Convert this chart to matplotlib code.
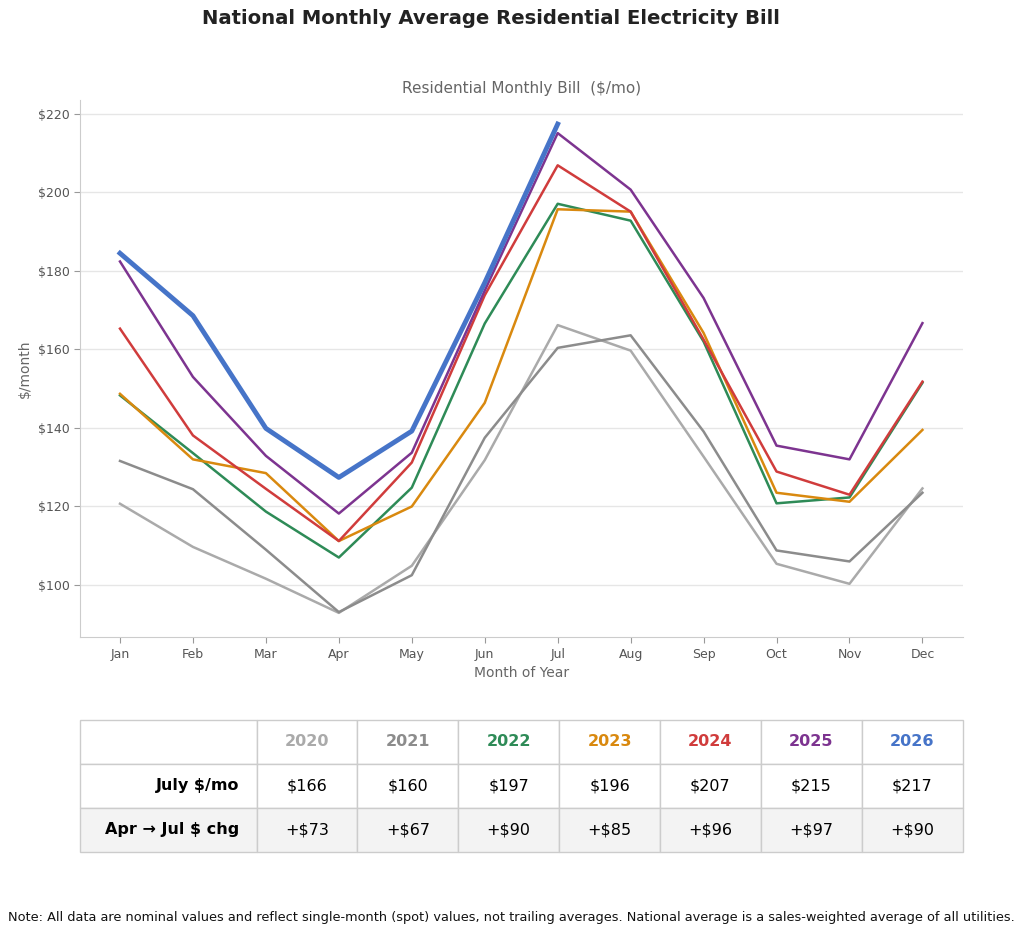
import numpy as np
import matplotlib
matplotlib.use("Agg")
from matplotlib import pyplot as plt

months = ['Jan', 'Feb', 'Mar', 'Apr', 'May', 'Jun', 'Jul', 'Aug', 'Sep', 'Oct', 'Nov', 'Dec']
years = ['2020', '2021', '2022', '2023', '2024', '2025', '2026']

bill_2020 = [120.7, 109.7, 101.6, 92.9, 104.9, 131.8, 166.2, 159.7, 132.7, 105.4, 100.3, 124.6]
bill_2021 = [131.6, 124.4, 109.0, 93.1, 102.5, 137.5, 160.4, 163.6, 139.1, 108.8, 106.0, 123.5]
bill_2022 = [148.3, 133.6, 118.7, 107.0, 124.8, 166.6, 197.1, 192.8, 162.0, 120.8, 122.3, 151.5]
bill_2023 = [148.7, 132.0, 128.5, 111.2, 120.0, 146.4, 195.7, 195.1, 164.2, 123.5, 121.2, 139.5]
bill_2024 = [165.3, 138.1, 124.5, 111.2, 131.2, 173.8, 206.9, 195.1, 162.5, 128.9, 123.0, 151.8]
bill_2025 = [182.4, 153.0, 132.9, 118.2, 133.7, 175.0, 215.1, 200.7, 173.1, 135.5, 132.0, 166.7]
bill_2026 = [184.5, 168.6, 139.9, 127.4, 139.2, 177.0, 217.4]

july_row = ['$166', '$160', '$197', '$196', '$207', '$215', '$217']
chg_row = ['+$73', '+$67', '+$90', '+$85', '+$96', '+$97', '+$90']

colors = ['#aaaaaa', '#8c8c8c', '#2e8b57', '#d9890f', '#d03c3c', '#7d3490', '#4674c8']
series = [bill_2020, bill_2021, bill_2022, bill_2023, bill_2024, bill_2025, bill_2026]

fig = plt.figure(figsize=(10.24, 9.4), dpi=100)
ax = fig.add_axes([0.078, 0.322, 0.862, 0.572])

for year, vals, c in zip(years, series, colors):
    lw = 3.5 if year == '2026' else 1.8
    ax.plot(range(len(vals)), vals, color=c, lw=lw, zorder=3 if year == '2026' else 2)

ax.set_xticks(range(12))
ax.set_xticklabels(months)
ax.set_yticks([100, 120, 140, 160, 180, 200, 220])
ax.set_yticklabels(['$%d' % v for v in [100, 120, 140, 160, 180, 200, 220]])
ax.grid(axis='y', color='#e6e6e6', lw=1)
ax.set_axisbelow(True)
for s in ['top', 'right']:
    ax.spines[s].set_visible(False)
for s in ['left', 'bottom']:
    ax.spines[s].set_color('#cccccc')
ax.tick_params(colors='#555555', labelsize=9, length=4)
ax.tick_params(axis='both', color='#999999')
ax.set_xlabel('Month of Year', color='#666666', fontsize=10)
ax.set_ylabel('$/month', color='#666666', fontsize=10)
ax.set_title('Residential Monthly Bill  ($/mo)', color='#666666', fontsize=11, pad=5)

fig.suptitle('National Monthly Average Residential Electricity Bill',
             fontsize=14.1, fontweight='bold', color='#222222', x=0.479, y=0.99)

# summary table
tax = fig.add_axes([0.078, 0.094, 0.862, 0.140])
tax.axis('off')
cells = [[''] + years, ['July $/mo'] + july_row, ['Apr \u2192 Jul $ chg'] + chg_row]
widths = [177 / 883] + [101 / 883] * 7
tbl = tax.table(cellText=cells, colWidths=widths, bbox=[0, 0, 1, 1], cellLoc='center')
tbl.auto_set_font_size(False)
for (r, c), cell in tbl.get_celld().items():
    cell.set_edgecolor('#cccccc')
    cell.set_linewidth(1)
    txt = cell.get_text()
    txt.set_fontsize(11.5)
    if r == 2:
        cell.set_facecolor('#f3f3f3')
    if r == 0 and c > 0:
        txt.set_color(colors[c - 1])
        txt.set_fontweight('bold')
    if c == 0 and r > 0:
        txt.set_fontweight('bold')
        txt.set_ha('right')
        cell._loc = 'right'
        cell.PAD = 0.1

fig.text(0.4995, 0.02, 'Note: All data are nominal values and reflect single-month (spot) values, '
         'not trailing averages. National average is a sales-weighted average of all utilities.',
         ha='center', fontsize=9.27, color='#111111')

fig.savefig('out.png', dpi=100)
